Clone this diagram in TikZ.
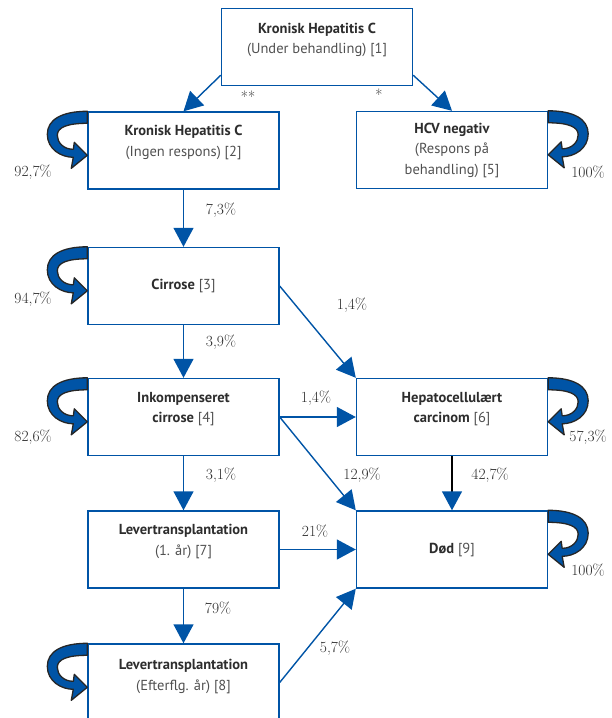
\documentclass[tikz,border=0pt]{standalone}
\usepackage{fontspec}
\newfontfamily\boxfont{PT Sans}
\usepackage{tikz}
\usepackage{xcolor}
\usetikzlibrary{arrows.meta}

\definecolor{hblue}{RGB}{0,84,166}
\definecolor{hgray}{RGB}{45,45,45}
\definecolor{hgrey}{RGB}{80,80,80}

\tikzset{
  box/.style={draw=hblue, line width=1.4pt, minimum width=191pt, minimum height=77pt, inner sep=0pt},
  boxtext/.style={font=\boxfont\fontsize{14.5}{20.5}\selectfont, text=hgrey, align=center},
  pct/.style={font=\fontsize{15.5}{17}\selectfont, text=hgray},
  flowarrow/.style={draw=hblue, line width=1.4pt, -{Triangle[length=19pt,width=20pt]}},
  blackarrow/.style={draw=black, line width=1.4pt, -{Triangle[length=19pt,width=20pt,color=hblue]}},
  selfloop/.pic={
    \filldraw[fill=hblue, draw=black!85, line width=1.3pt, line join=round]
      (0,0) .. controls (-25,0) and (-40,8) .. (-40,23)
      .. controls (-40,38) and (-26,46) .. (-14,46)
      -- (-16,57) -- (0,44) -- (-13,31) -- (-14,38)
      .. controls (-24,38) and (-30,31) .. (-30,24)
      .. controls (-30,16) and (-20,12) .. (0,12) -- cycle;
  }
}

\begin{document}
\begin{tikzpicture}[x=1pt, y=-1pt]
  \useasboundingbox (0,0) rectangle (612,718);

  % boxes
  \node[box] (hcv1) at (317,47) {};
  \node[box] (hcv2) at (183.5,150.5) {};
  \node[box] (hcv5) at (452,150) {};
  \node[box] (cirr) at (183.5,286) {};
  \node[box] (ink) at (183.5,417) {};
  \node[box] (hcc) at (452,417) {};
  \node[box] (ltx1) at (183.5,549.5) {};
  \node[box] (dod) at (452,549.5) {};
  \node[box] (ltx2) at (183.5,682.5) {};

  % box texts
  \node[boxtext] (hcv1t) at ([yshift=7pt]hcv1.center) {{\bfseries\color{hgray}Kronisk Hepatitis C}\\(Under behandling) [1]};
  \node[boxtext] (hcv2t) at ([yshift=8pt]hcv2.center) {{\bfseries\color{hgray}Kronisk Hepatitis C}\\(Ingen respons) [2]};
  \node[boxtext] (hcv5t) at (hcv5.center) {{\bfseries\color{hgray}HCV negativ}\\(Respons på\\behandling) [5]};
  \node[boxtext] (cirrt) at (cirr.center) {{\bfseries\color{hgray}Cirrose} [3]};
  \node[boxtext] (inkt) at ([yshift=8pt]ink.center) {{\bfseries\color{hgray}Inkompenseret}\\{\bfseries\color{hgray}cirrose} [4]};
  \node[boxtext] (hcct) at ([yshift=8pt]hcc.center) {{\bfseries\color{hgray}Hepatocellulært}\\{\bfseries\color{hgray}carcinom} [6]};
  \node[boxtext] (ltx1t) at ([yshift=8pt]ltx1.center) {{\bfseries\color{hgray}Levertransplantation}\\(1. år) [7]};
  \node[boxtext] (dodt) at (dod.center) {{\bfseries\color{hgray}Død} [9]};
  \node[boxtext] (ltx2t) at ([yshift=6pt]ltx2.center) {{\bfseries\color{hgray}Levertransplantation}\\(Efterflg. år) [8]};

  % transitions
  \draw[flowarrow] ([yshift=11pt]hcv1.south west) -- (hcv2.north);
  \draw[flowarrow] ([yshift=11pt]hcv1.south east) -- (hcv5.north);
  \draw[flowarrow] (hcv2.south) -- (cirr.north);
  \draw[flowarrow] (cirr.east) -- (hcc.north west);
  \draw[flowarrow] (cirr.south) -- (ink.north);
  \draw[flowarrow] (ink.east) -- (hcc.west);
  \draw[flowarrow] (ink.east) -- (dod.north west);
  \draw[flowarrow] (ink.south) -- (ltx1.north);
  \draw[blackarrow] (hcc.south) -- (dod.north);
  \draw[flowarrow] (ltx1.east) -- (dod.west);
  \draw[flowarrow] (ltx1.south) -- (ltx2.north);
  \draw[flowarrow] (ltx2.east) -- (dod.south west);

  \node[pct] (st2) at (248,97) {**};
  \node[pct] (st1) at (379,95) {*};
  \node[pct] (p23) at (221,210) {7,3\%};
  \node[pct] (p34) at (221,342) {3,9\%};
  \node[pct] (p47) at (221,475) {3,1\%};
  \node[pct] (p78) at (218,608) {79\%};
  \node[pct] (p36) at (352,305) {1,4\%};
  \node[pct] (p46) at (316,398) {1,4\%};
  \node[pct] (p49) at (362,475) {12,9\%};
  \node[pct] (p69) at (490,475) {42,7\%};
  \node[pct] (p79) at (315,531) {21\%};
  \node[pct] (p89) at (335,648) {5,7\%};

  % self loops
  \pic at (hcv2.north west) {selfloop};
  \pic at (cirr.north west) {selfloop};
  \pic at (ink.north west) {selfloop};
  \pic at (ltx2.north west) {selfloop};
  \pic[xscale=-1] at (hcv5.north east) {selfloop};
  \pic[xscale=-1] at (hcc.north east) {selfloop};
  \pic[xscale=-1] at (dod.north east) {selfloop};

  \node[pct] (p22) at (33,172) {92,7\%};
  \node[pct] (p33) at (33,299) {94,7\%};
  \node[pct] (p44) at (33,437) {82,6\%};
  \node[pct] (p55) at (588,172) {100\%};
  \node[pct] (p66) at (588,437) {57,3\%};
  \node[pct] (p99) at (588,570) {100\%};
\end{tikzpicture}
\end{document}
